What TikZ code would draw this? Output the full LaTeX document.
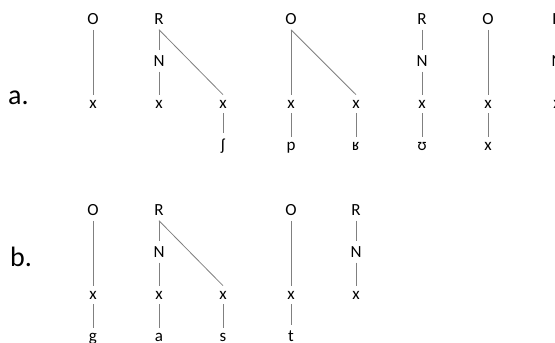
\documentclass[tikz,border=0pt]{standalone}
\usepackage{fontspec}
\setmainfont{Carlito}
\begin{document}
\begin{tikzpicture}[x=1pt,y=-1pt,
  seg/.style={anchor=base,inner xsep=0pt,inner ysep=5pt,
    font=\fontsize{17}{20}\selectfont},
  lbl/.style={anchor=base west,inner sep=0pt,
    font=\fontsize{28}{32}\selectfont},
  assoc/.style={draw=black!50,line width=0.8pt}]
\useasboundingbox (0,0) rectangle (555,343);

% ---- (a) ----
\node[lbl] (la) at (8,104) {a.};
\node[seg] (Oa1) at (93,24.5) {O};
\node[seg] (xa1) at (93,108) {x};
\node[seg] (Ra1) at (159,24.5) {R};
\node[seg] (Na1) at (159,66.5) {N};
\node[seg] (xa2) at (159,108) {x};
\node[seg] (xa3) at (223,108) {x};
\node[seg] (sha) at (223,150) {ʃ};
\node[seg] (Oa2) at (291,24.5) {O};
\node[seg] (xa4) at (291,108) {x};
\node[seg] (xa5) at (356,108) {x};
\node[seg] (pa)  at (291,150) {p};
\node[seg] (ra)  at (356,150) {ʁ};
\node[seg] (Ra2) at (422,24.5) {R};
\node[seg] (Na2) at (422,66.5) {N};
\node[seg] (xa6) at (422,108) {x};
\node[seg] (ua)  at (422,150) {ʊ};
\node[seg] (Oa3) at (488,24.5) {O};
\node[seg] (xa7) at (488,108) {x};
\node[seg] (xxa) at (488,150) {x};
\node[seg] (Ra3) at (557,24.5) {R};
\node[seg] (Na3) at (557,66.5) {N};
\node[seg] (xa8) at (557,108) {x};

\draw[assoc] (Oa1.south) -- (xa1.north);
\draw[assoc] (Ra1.south) -- (Na1.north);
\draw[assoc] (Na1.south) -- (xa2.north);
\draw[assoc] (Ra1.south) -- (xa3.north);
\draw[assoc] (xa3.south) -- (sha.north);
\draw[assoc] (Oa2.south) -- (xa4.north);
\draw[assoc] (Oa2.south) -- (xa5.north);
\draw[assoc] (xa4.south) -- (pa.north);
\draw[assoc] (xa5.south) -- (ra.north);
\draw[assoc] (Ra2.south) -- (Na2.north);
\draw[assoc] (Na2.south) -- (xa6.north);
\draw[assoc] (xa6.south) -- (ua.north);
\draw[assoc] (Oa3.south) -- (xa7.north);
\draw[assoc] (xa7.south) -- (xxa.north);
\draw[assoc] (Ra3.south) -- (Na3.north);
\draw[assoc] (Na3.south) -- (xa8.north);

% ---- (b) ----
\node[lbl] (lb) at (10,266) {b.};
\node[seg] (Ob1) at (93,215.5) {O};
\node[seg] (xb1) at (93,299) {x};
\node[seg] (gb)  at (93,341) {g};
\node[seg] (Rb1) at (159,215.5) {R};
\node[seg] (Nb1) at (159,257.5) {N};
\node[seg] (xb2) at (159,299) {x};
\node[seg] (ab)  at (159,341) {a};
\node[seg] (xb3) at (223,299) {x};
\node[seg] (sb)  at (223,341) {s};
\node[seg] (Ob2) at (291,215.5) {O};
\node[seg] (xb4) at (291,299) {x};
\node[seg] (tb)  at (291,341) {t};
\node[seg] (Rb2) at (356,215.5) {R};
\node[seg] (Nb2) at (356,257.5) {N};
\node[seg] (xb5) at (356,299) {x};

\draw[assoc] (Ob1.south) -- (xb1.north);
\draw[assoc] (xb1.south) -- (gb.north);
\draw[assoc] (Rb1.south) -- (Nb1.north);
\draw[assoc] (Nb1.south) -- (xb2.north);
\draw[assoc] (xb2.south) -- (ab.north);
\draw[assoc] (Rb1.south) -- (xb3.north);
\draw[assoc] (xb3.south) -- (sb.north);
\draw[assoc] (Ob2.south) -- (xb4.north);
\draw[assoc] (xb4.south) -- (tb.north);
\draw[assoc] (Rb2.south) -- (Nb2.north);
\draw[assoc] (Nb2.south) -- (xb5.north);
\end{tikzpicture}
\end{document}
